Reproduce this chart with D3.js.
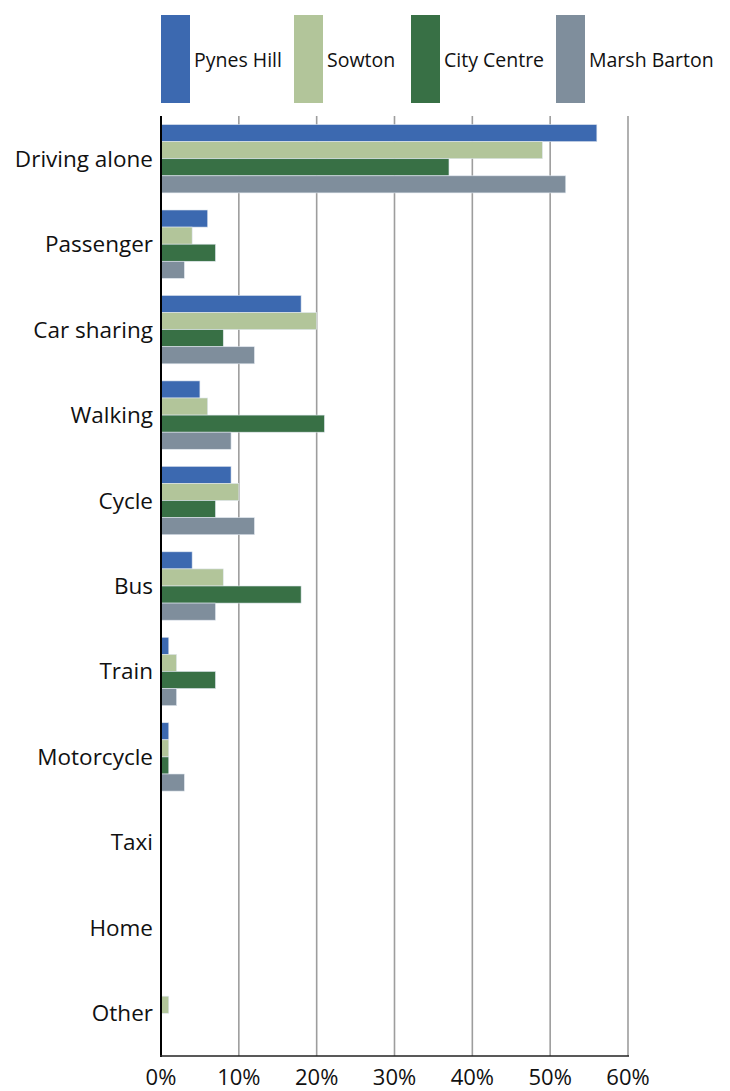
<!DOCTYPE html>
<html>
<head>
<meta charset="utf-8">
<script src="https://cdn.jsdelivr.net/npm/d3@7"></script>
<style>
  html, body { margin: 0; padding: 0; background: #fff; }
  svg { display: block; font-family: "Open Sans", sans-serif; }
</style>
</head>
<body>
<svg id="chart" width="730" height="1091"></svg>
<script>
// Commute mode share by site (percent of respondents)
const categories = ["Driving alone", "Passenger", "Car sharing", "Walking", "Cycle", "Bus", "Train", "Motorcycle", "Taxi", "Home", "Other"];
const sites = ["Pynes Hill", "Sowton", "City Centre", "Marsh Barton"];
const pynesHill   = [56, 6, 18, 5, 9, 4, 1, 1, 0, 0, 0];
const sowton      = [49, 4, 20, 6, 10, 8, 2, 1, 0, 0, 1];
const cityCentre  = [37, 7, 8, 21, 7, 18, 7, 1, 0, 0, 0];
const marshBarton = [52, 3, 12, 9, 12, 7, 2, 3, 0, 0, 0];
const xTicks = [0, 10, 20, 30, 40, 50, 60];
const tickLabels = ["0%", "10%", "20%", "30%", "40%", "50%", "60%"];

const seriesValues = [pynesHill, sowton, cityCentre, marshBarton];
const colors = ["#3c69b0", "#b2c59a", "#387045", "#7f8e9c"];

const svg = d3.select("#chart");
const plot = { left: 161, right: 628, top: 116, bottom: 1056 };

const x = d3.scaleLinear().domain([0, 60]).range([plot.left, plot.right]);
const y0 = d3.scaleBand().domain(categories).range([plot.top, plot.bottom])
  .paddingInner(0.2).paddingOuter(0.1);
const y1 = d3.scaleBand().domain(sites).range([0, y0.bandwidth()]);
const color = d3.scaleOrdinal().domain(sites).range(colors);

// vertical gridlines
svg.append("g").selectAll("line").data(xTicks.slice(1)).join("line")
  .attr("x1", d => x(d)).attr("x2", d => x(d))
  .attr("y1", plot.top).attr("y2", plot.bottom)
  .attr("stroke", "#9d9d9d").attr("stroke-width", 1.6);

// bars
const rows = categories.map((c, i) => ({ cat: c, vals: sites.map((s, j) => ({ site: s, v: seriesValues[j][i] })) }));
const groups = svg.append("g").selectAll("g").data(rows).join("g")
  .attr("transform", d => `translate(0,${y0(d.cat)})`);
groups.selectAll("rect").data(d => d.vals.filter(e => e.v > 0)).join("rect")
  .attr("x", x(0))
  .attr("y", d => y1(d.site))
  .attr("width", d => x(d.v) - x(0))
  .attr("height", y1.bandwidth())
  .attr("fill", d => color(d.site))
  .attr("stroke", "#dfe6ee").attr("stroke-width", 0.6);

// axes lines
svg.append("line").attr("x1", plot.left).attr("x2", plot.left)
  .attr("y1", plot.top).attr("y2", plot.bottom + 1)
  .attr("stroke", "#000").attr("stroke-width", 2);
svg.append("line").attr("x1", plot.left - 1).attr("x2", plot.right + 1)
  .attr("y1", plot.bottom).attr("y2", plot.bottom)
  .attr("stroke", "#222").attr("stroke-width", 1.6);

// category labels
svg.append("g").selectAll("text").data(categories).join("text")
  .attr("x", 153)
  .attr("y", d => y0(d) + y0.bandwidth() / 2 + 8)
  .attr("text-anchor", "end")
  .attr("font-size", 22.5)
  .attr("fill", "#111")
  .text(d => d);

// tick labels
svg.append("g").selectAll("text").data(xTicks).join("text")
  .attr("x", d => x(d))
  .attr("y", 1085)
  .attr("text-anchor", "middle")
  .attr("font-size", 22)
  .attr("fill", "#111")
  .text((d, i) => tickLabels[i]);

// legend
const legendX = [161, 294, 411, 556];
const leg = svg.append("g").selectAll("g").data(sites).join("g")
  .attr("transform", (d, i) => `translate(${legendX[i]},15)`);
leg.append("rect").attr("width", 29).attr("height", 88).attr("fill", d => color(d));
leg.append("text").attr("x", 33).attr("y", 52)
  .attr("font-size", 19.5).attr("fill", "#111").text(d => d);
</script>
</body>
</html>
